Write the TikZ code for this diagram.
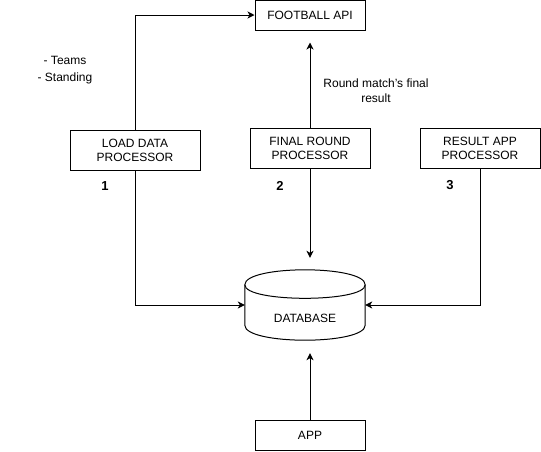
\documentclass[tikz,border=0pt]{standalone}
\usepackage{fontspec}
\setmainfont{Liberation Sans}
\usetikzlibrary{arrows.meta}
\tikzset{
  box/.style={draw, line width=1pt, fill=white, minimum width=#1, minimum height=40pt, inner sep=0pt, align=center, font=\fontsize{12pt}{14pt}\selectfont},
  box/.default=120pt,
  lbl/.style={inner sep=0pt, align=center, font=\fontsize{12pt}{15pt}\selectfont},
  num/.style={inner sep=0pt, font=\fontsize{13pt}{15pt}\selectfont\bfseries},
  arr/.style={line width=1pt, -{Stealth[length=7pt,width=7pt,inset=2pt]}},
  cyl/.style={draw, line width=1pt, fill=white}
}
\begin{document}
\begin{tikzpicture}[x=1pt,y=-1pt]
\useasboundingbox (0,0) rectangle (541,451);
% boxes
\node[box=110pt, minimum height=30pt] (api) at (310,15) {FOOTBALL API};
\node[box=130pt] (load) at (135,150) {LOAD DATA\\PROCESSOR};
\node[box] (final) at (310,148) {FINAL ROUND\\PROCESSOR};
\node[box] (result) at (480,148) {RESULT APP\\PROCESSOR};
\node[box=110pt, minimum height=30pt] (app) at (310,435) {APP};
% database cylinder
\node[minimum width=120pt, minimum height=70pt, inner sep=0pt] (db) at (305,305) {};
\draw[cyl] ([yshift=-15pt]db.north west)
  .. controls ([yshift=5pt]db.north west) and ([yshift=5pt]db.north east) .. ([yshift=-15pt]db.north east)
  -- ([yshift=15pt]db.south east)
  .. controls ([yshift=-5pt]db.south east) and ([yshift=-5pt]db.south west) .. ([yshift=15pt]db.south west)
  -- cycle;
\draw[line width=1pt] ([yshift=-15pt]db.north west)
  .. controls ([yshift=-33pt]db.north west) and ([yshift=-33pt]db.north east) .. ([yshift=-15pt]db.north east);
\node[lbl] (dbtext) at ([yshift=-13pt]db.center) {DATABASE};
% labels
\node[lbl, font=\fontsize{12pt}{16.5pt}\selectfont] (teams) at (65,70) {- Teams\\- Standing};
\node[lbl] (round) at (376,91) {Round match's final\\result};
\node[num] (n1) at (105,186) {1};
\node[num] (n2) at (280,186) {2};
\node[num] (n3) at (450,185) {3};
% connectors
\draw[arr] (load.north) |- (api.west);
\draw[arr, shorten >=12pt] (final.north) -- (api.south);
\draw[arr, shorten >=12pt] (final.south) -- (final.south |- db.north);
\draw[arr] (load.south) |- (db.west);
\draw[arr] (result.south) |- (db.east);
\draw[arr, shorten >=13pt] (app.north) -- (app.north |- db.south);
\end{tikzpicture}
\end{document}
